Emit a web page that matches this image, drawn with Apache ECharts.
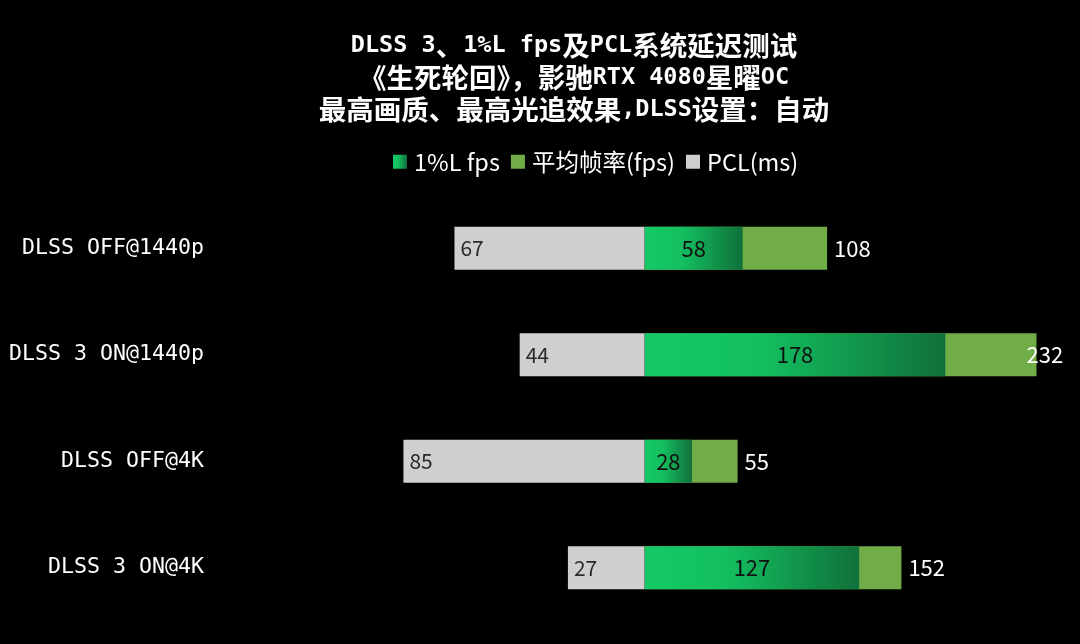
<!DOCTYPE html>
<html><head><meta charset="utf-8">
<script src="https://cdn.jsdelivr.net/npm/echarts@6/dist/echarts.min.js"></script>
<style>html,body{margin:0;padding:0;background:#000;}#c{width:1080px;height:644px;}</style>
</head><body><div id="c"></div>
<script>
const categories = ['DLSS OFF@1440p', 'DLSS 3 ON@1440p', 'DLSS OFF@4K', 'DLSS 3 ON@4K'];
const low1 = [58, 178, 28, 127];
const avgFps = [108, 232, 55, 152];
const pcl = [67, 44, 85, 27];
const titleLines = ['DLSS 3、1%L fps及PCL系统延迟测试', '《生死轮回》，影驰RTX 4080星曜OC', '最高画质、最高光追效果,DLSS设置：自动'];

const chart = echarts.init(document.getElementById('c'));
const grad = new echarts.graphic.LinearGradient(0, 0, 1, 0, [
  {offset: 0, color: '#15c966'},
  {offset: 0.38, color: '#13bf60'},
  {offset: 1, color: '#10703a'}
]);
const labelFont = '"Noto Sans CJK SC", sans-serif';
// wrap Latin runs of the title so they use a narrow monospace face (like the original SimHei look)
const titleText = titleLines.map(line => line.replace(/[\x20-\x7e]+/g, s => '{l|' + s + '}')).join('\n');
chart.setOption({
  backgroundColor: '#000',
  animation: false,
  title: {
    text: titleText,
    left: 569, top: 25, textAlign: 'center',
    textStyle: {
      color: '#fff', fontSize: 27.5, fontWeight: 'bold', lineHeight: 32, fontFamily: '"Noto Sans CJK SC", sans-serif',
      rich: {l: {color: '#fff', fontSize: 23.5, fontWeight: 'bold', lineHeight: 32, fontFamily: '"DejaVu Sans Mono", monospace'}}
    }
  },
  legend: {
    top: 145, left: 388, itemWidth: 14, itemHeight: 14, itemGap: 11,
    data: ['1%L fps', '平均帧率(fps)', 'PCL(ms)'],
    textStyle: {color: '#fff', fontSize: 23.5, fontFamily: labelFont, padding: [0, 0, 0, 2]},
    icon: 'rect'
  },
  grid: {left: 307, right: 30, top: 195, bottom: 23},
  yAxis: {
    type: 'category', data: categories, inverse: true,
    axisLine: {show: false}, axisTick: {show: false},
    axisLabel: {color: '#fff', fontSize: 21.6, fontWeight: 'normal', margin: 103, fontFamily: '"DejaVu Sans Mono", monospace'}
  },
  xAxis: [
    {type: 'value', min: -200, max: 240, show: false, splitLine: {show: false}},
    {type: 'value', min: -119, max: 143, show: false, splitLine: {show: false}}
  ],
  series: [
    {
      name: '平均帧率(fps)', type: 'bar', xAxisIndex: 0,
      data: avgFps.map((v, i) => i === 1 ? {value: v, label: {offset: [-17, 0]}} : v),
      barWidth: 43, barGap: '-100%',
      itemStyle: {color: '#70ad47'},
      label: {show: true, position: 'right', distance: 7, color: '#fff', fontSize: 22, fontFamily: labelFont}
    },
    {
      name: '1%L fps', type: 'bar', xAxisIndex: 0, data: low1, barWidth: 43, barGap: '-100%',
      itemStyle: {color: grad},
      label: {show: true, position: 'inside', color: '#111', fontSize: 22, fontFamily: labelFont}
    },
    {
      name: 'PCL(ms)', type: 'bar', xAxisIndex: 1, data: pcl.map(v => -v), barWidth: 43, barGap: '-100%',
      itemStyle: {color: '#d0cece'},
      label: {show: true, position: 'insideLeft', distance: 6, color: '#2a2a2a', fontSize: 21, fontFamily: labelFont,
        formatter: p => String(-p.value)}
    }
  ]
});
</script></body></html>
